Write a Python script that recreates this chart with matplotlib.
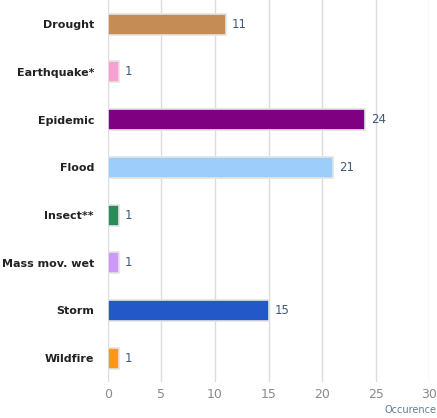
import matplotlib
matplotlib.use("Agg")
from matplotlib import pyplot as plt
from matplotlib.transforms import ScaledTranslation

categories = ["Drought", "Earthquake*", "Epidemic", "Flood", "Insect**",
              "Mass mov. wet", "Storm", "Wildfire"]
values = [11, 1, 24, 21, 1, 1, 15, 1]
colors = ["#c68c55", "#f7a0d2", "#7f0080", "#9dcdfb", "#2f8a5a",
          "#cc9af5", "#2358c8", "#f99a12"]
xticks = [0, 5, 10, 15, 20, 25, 30]

fig = plt.figure(figsize=(4.37, 4.18), dpi=100)
ax = fig.add_axes([0.247, 0.086, 0.735, 0.919])

ypos = list(range(len(categories)))
ax.barh(ypos, values, height=0.44, color=colors,
        edgecolor="#e4e4e4", linewidth=1.2, zorder=3)

for y, v in zip(ypos, values):
    ax.text(v + 0.55, y, str(v), va="center", ha="left",
            fontsize=8.5, color="#3d5a78")

ax.set_yticks(ypos)
ax.set_yticklabels(categories, fontsize=8, fontweight="bold", color="#222222")
ax.set_ylim(len(categories) - 0.5, -0.55)

ax.set_xlim(0, 30)
ax.set_xticks(xticks)
ax.set_xticklabels([str(t) for t in xticks], fontsize=9, color="#8a8a8a")
# labels sit a little left of their grid lines
shift = ScaledTranslation(-3 / 100, 0, fig.dpi_scale_trans)
for lbl in ax.get_xticklabels():
    lbl.set_transform(lbl.get_transform() + shift)
ax.grid(axis="x", color="#dcdcdc", linewidth=1, zorder=0)

for s in ax.spines.values():
    s.set_visible(False)
ax.tick_params(axis="both", length=0)
ax.tick_params(axis="y", pad=10)
ax.tick_params(axis="x", pad=4)

fig.text(0.998, 0.008, "Occurence", ha="right", va="bottom",
         fontsize=7, color="#5f7d9a")

fig.savefig("out.png", dpi=100)
